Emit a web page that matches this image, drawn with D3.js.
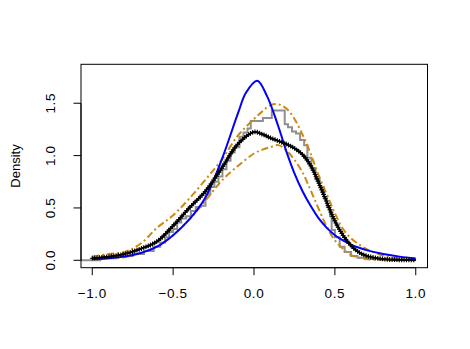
<!DOCTYPE html>
<html>
<head>
<meta charset="utf-8">
<script src="https://cdn.jsdelivr.net/npm/d3@7"></script>
<style>
  body { margin: 0; background: #fff; }
  text { font-family: "Liberation Sans", Arial, sans-serif; fill: #000; }
</style>
</head>
<body>
<script>
// values
var gridX  = [-1.0, -0.9, -0.8, -0.7, -0.6, -0.5, -0.4, -0.3, -0.2, -0.1, 0, 0.05, 0.1, 0.15, 0.2, 0.25, 0.3, 0.35, 0.4, 0.45, 0.5, 0.55, 0.6, 0.65, 0.7, 0.8, 0.9, 1.0];
var kdeY   = [0.02, 0.035, 0.06, 0.11, 0.18, 0.33, 0.50, 0.66, 0.88, 1.11, 1.225, 1.205, 1.17, 1.14, 1.11, 1.07, 1.01, 0.905, 0.74, 0.555, 0.375, 0.24, 0.14, 0.075, 0.04, 0.012, 0.005, 0.003];
var upperY = [0.035, 0.06, 0.08, 0.16, 0.31, 0.43, 0.59, 0.77, 0.96, 1.19, 1.35, 1.42, 1.48, 1.49, 1.45, 1.35, 1.20, 1.02, 0.81, 0.63, 0.45, 0.30, 0.21, 0.15, 0.105, 0.045, 0.015, 0.005];
var lowerY = [0.01, 0.02, 0.03, 0.07, 0.13, 0.24, 0.39, 0.57, 0.76, 0.90, 1.02, 1.055, 1.08, 1.10, 1.05, 0.96, 0.84, 0.67, 0.49, 0.32, 0.19, 0.11, 0.05, 0.025, 0.01, 0.003, 0.001, 0.0];

var blueX  = [-1.0, -0.9, -0.8, -0.7, -0.6, -0.5, -0.4, -0.3, -0.2, -0.1, -0.05, 0.02, 0.08, 0.15, 0.2, 0.25, 0.3, 0.35, 0.4, 0.45, 0.5, 0.55, 0.6, 0.65, 0.7, 0.8, 0.9, 1.0];
var blueY  = [0.012, 0.02, 0.035, 0.07, 0.13, 0.24, 0.39, 0.60, 0.96, 1.40, 1.60, 1.715, 1.57, 1.28, 1.04, 0.83, 0.66, 0.52, 0.40, 0.31, 0.24, 0.19, 0.15, 0.12, 0.095, 0.06, 0.035, 0.018];

// step density (left edge of each step, height)
var stepX = [-1.07, -0.95, -0.85, -0.75, -0.68, -0.62, -0.58, -0.55, -0.525, -0.5, -0.475, -0.45, -0.42, -0.39, -0.36, -0.33, -0.3, -0.27, -0.245, -0.22, -0.195, -0.17, -0.145, -0.12, -0.09, -0.065, -0.04, -0.02, 0.055, 0.11, 0.19, 0.21, 0.235, 0.26, 0.285, 0.31, 0.33, 0.355, 0.38, 0.405, 0.43, 0.45, 0.47, 0.48, 0.5, 0.53, 0.56, 0.6, 0.64, 0.7, 0.8, 1.0];
var stepY = [0.0, 0.02, 0.04, 0.06, 0.09, 0.13, 0.17, 0.22, 0.27, 0.30, 0.36, 0.40, 0.42, 0.47, 0.51, 0.52, 0.63, 0.70, 0.75, 0.80, 0.87, 0.95, 1.03, 1.08, 1.18, 1.22, 1.26, 1.33, 1.36, 1.43, 1.30, 1.27, 1.23, 1.21, 1.15, 1.10, 0.98, 0.88, 0.78, 0.70, 0.60, 0.51, 0.42, 0.29, 0.22, 0.13, 0.08, 0.04, 0.025, 0.012, 0.005, 0.005];

var xTicks = [-1.0, -0.5, 0.0, 0.5, 1.0];
var yTicks = [0.0, 0.5, 1.0, 1.5];

function init(){
    var w = 470, h = 349;
    var left = 81, right = 427.5, top = 64.3, bottom = 267.7;

    var x = d3.scaleLinear().domain([-1.0696, 1.0726]).range([left, right]);
    var y = d3.scaleLinear().domain([-0.0707, 1.872]).range([bottom, top]);

    var svg = d3.select("body").append("svg")
        .attr("width", w).attr("height", h);

    var line = d3.line()
        .x(function(d){ return x(d[0]); })
        .y(function(d){ return y(d[1]); })
        .curve(d3.curveCatmullRom.alpha(0.5));

    function pairs(xs, ys){ return xs.map(function(v, i){ return [v, ys[i]]; }); }

    var g = svg.append("g");

    // step density in grey
    g.append("path")
        .datum(pairs(stepX, stepY))
        .attr("d", d3.line().x(function(d){ return x(d[0]); }).y(function(d){ return y(d[1]); }).curve(d3.curveStepAfter))
        .attr("fill", "none").attr("stroke", "#8f8f8f").attr("stroke-width", 2);

    // band lines
    [upperY, lowerY].forEach(function(ys){
        g.append("path")
            .datum(pairs(gridX, ys))
            .attr("d", line)
            .attr("fill", "none").attr("stroke", "#cd8a0e").attr("stroke-width", 2)
            .attr("stroke-dasharray", "7,3,2,3");
    });

    // blue curve
    g.append("path")
        .datum(pairs(blueX, blueY))
        .attr("d", line)
        .attr("fill", "none").attr("stroke", "#0000ff").attr("stroke-width", 2);

    // black kernel estimate with + symbols along it
    var kde = g.append("path")
        .datum(pairs(gridX, kdeY))
        .attr("d", line)
        .attr("fill", "none").attr("stroke", "#000").attr("stroke-width", 2);

    var node = kde.node(), len = node.getTotalLength(), pts = [];
    for (var s = 0; s <= len; s += 2.4) { pts.push(node.getPointAtLength(s)); }
    g.selectAll("path.plus")
        .data(pts).enter().append("path")
        .attr("class", "plus")
        .attr("d", function(p){ return "M" + (p.x - 2.4) + "," + p.y + "h4.8M" + p.x + "," + (p.y - 2.4) + "v4.8"; })
        .attr("stroke", "#000").attr("stroke-width", 1.1).attr("fill", "none");

    // box
    svg.append("rect")
        .attr("x", left).attr("y", top)
        .attr("width", right - left).attr("height", bottom - top)
        .attr("fill", "none").attr("stroke", "#000").attr("stroke-width", 1);

    // axes, R style
    var xAxis = svg.append("g");
    xAxis.append("line")
        .attr("x1", x(xTicks[0])).attr("x2", x(xTicks[xTicks.length - 1]))
        .attr("y1", bottom).attr("y2", bottom).attr("stroke", "#000");
    xAxis.selectAll("line.tick").data(xTicks).enter().append("line")
        .attr("class", "tick")
        .attr("x1", function(d){ return x(d); }).attr("x2", function(d){ return x(d); })
        .attr("y1", bottom).attr("y2", bottom + 7.5).attr("stroke", "#000");
    xAxis.selectAll("text").data(xTicks).enter().append("text")
        .attr("x", function(d){ return x(d); }).attr("y", 298)
        .attr("text-anchor", "middle").attr("font-size", 13.5)
        .attr("letter-spacing", 0.6)
        .text(function(d){ return d3.format(".1f")(d).replace("-", "\u2212"); });

    var yAxis = svg.append("g");
    yAxis.append("line")
        .attr("y1", y(yTicks[0])).attr("y2", y(yTicks[yTicks.length - 1]))
        .attr("x1", left).attr("x2", left).attr("stroke", "#000");
    yAxis.selectAll("line.tick").data(yTicks).enter().append("line")
        .attr("class", "tick")
        .attr("y1", function(d){ return y(d); }).attr("y2", function(d){ return y(d); })
        .attr("x1", left).attr("x2", left - 7.5).attr("stroke", "#000");
    yAxis.selectAll("text").data(yTicks).enter().append("text")
        .attr("transform", function(d){ return "translate(55," + y(d) + ") rotate(-90)"; })
        .attr("text-anchor", "middle").attr("font-size", 13.5)
        .attr("letter-spacing", 0.6)
        .text(function(d){ return d3.format(".1f")(d); });

    svg.append("text")
        .attr("transform", "translate(20," + ((top + bottom) / 2) + ") rotate(-90)")
        .attr("text-anchor", "middle").attr("font-size", 13)
        .text("Density");
}
window.onload = init;
</script>
</body>
</html>
